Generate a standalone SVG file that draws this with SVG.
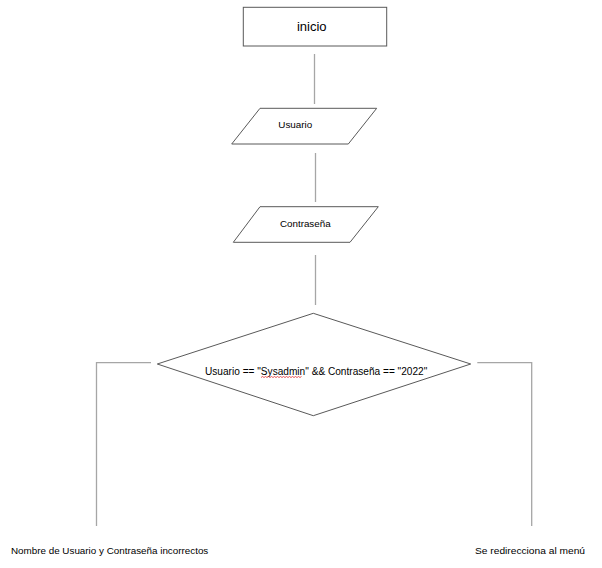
<svg xmlns="http://www.w3.org/2000/svg" width="602" height="568" viewBox="0 0 602 568">
<style>
.shape{fill:#fff;stroke:#595959;stroke-width:1}
.conn{fill:none;stroke:#a6a6a6;stroke-width:1.3}
text{font-family:"Liberation Sans","DejaVu Sans",sans-serif;fill:#000}
</style>
<rect width="602" height="568" fill="#fff"/>
<g id="connectors">
<line class="conn" x1="314.5" y1="54" x2="314.5" y2="104"/>
<line class="conn" x1="315.5" y1="153" x2="315.5" y2="202"/>
<line class="conn" x1="315.5" y1="255" x2="315.5" y2="305"/>
<polyline class="conn" points="151,362.7 96.5,362.7 96.5,526"/>
<polyline class="conn" points="477.3,362.7 531.7,362.7 531.7,526"/>
</g>
<g id="inicio">
<rect class="shape" x="243.3" y="7.3" width="143.4" height="38.7"/>
<text x="311.7" y="31" font-size="13" text-anchor="middle">inicio</text>
</g>
<g id="usuario">
<polygon class="shape" points="260,108.3 376.7,108.3 348.3,144 231.7,144"/>
<text x="295.3" y="128.3" font-size="9.5" text-anchor="middle" textLength="34" lengthAdjust="spacingAndGlyphs">Usuario</text>
</g>
<g id="contrasena">
<polygon class="shape" points="260,206.7 378.3,206.7 350,242.3 233.3,242.3"/>
<text x="305.3" y="226.7" font-size="9.5" text-anchor="middle" textLength="50.7" lengthAdjust="spacingAndGlyphs">Contraseña</text>
</g>
<g id="decision">
<polygon class="shape" points="313.3,313.3 470.7,364 313.3,415.7 157.3,364"/>
<text x="205" y="374.5" font-size="10" textLength="222.3" lengthAdjust="spacingAndGlyphs">Usuario == "Sysadmin" &amp;&amp; Contraseña == "2022"</text>
<path d="M261,377.5 l1.5,-1 l1.5,1 l1.5,-1 l1.5,1 l1.5,-1 l1.5,1 l1.5,-1 l1.5,1 l1.5,-1 l1.5,1 l1.5,-1 l1.5,1 l1.5,-1 l1.5,1 l1.5,-1 l1.5,1 l1.5,-1 l1.5,1 l1.5,-1 l1.5,1 l1.5,-1 l1.5,1 l1.5,-1 l1.5,1 l1.5,-1 l1.5,1 l1.5,-1" fill="none" stroke="#e03030" stroke-width="0.8"/>
</g>
<g id="incorrectos">
<text x="11" y="554" font-size="9.5" textLength="197.3" lengthAdjust="spacingAndGlyphs">Nombre de Usuario y Contraseña incorrectos</text>
</g>
<g id="menu">
<text x="475" y="553.5" font-size="9.5" textLength="110" lengthAdjust="spacingAndGlyphs">Se redirecciona al menú</text>
</g>
</svg>
